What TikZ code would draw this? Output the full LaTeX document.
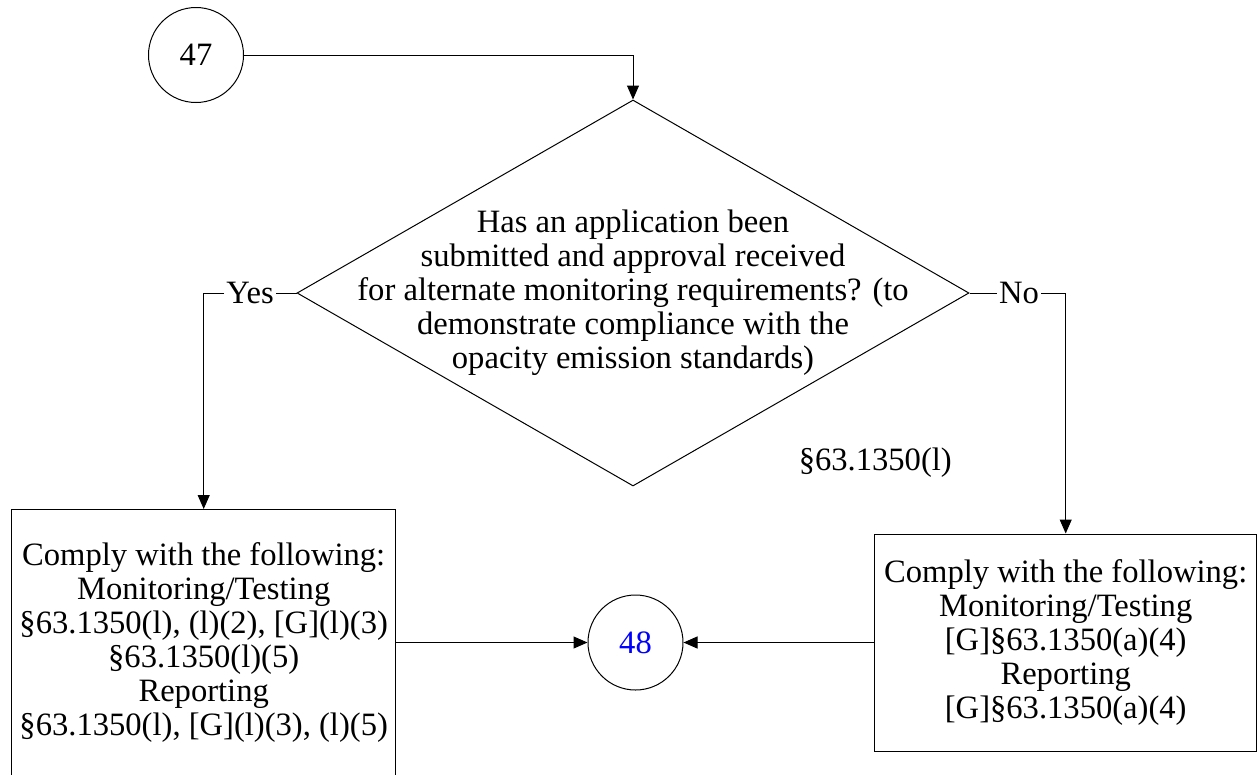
\documentclass[tikz,border=0pt]{standalone}
\usepackage{fontspec}
\setmainfont{Liberation Serif}
\usetikzlibrary{arrows.meta,shapes.geometric}
\begin{document}
\begin{tikzpicture}[x=1pt,y=-1pt,
  every node/.style={font=\fontsize{32.6}{34}\selectfont},
  base/.style={line width=1pt},
  conn/.style={base,-{Triangle[length=14pt,width=12pt]}},
  circ/.style={base,draw,circle,minimum size=95pt,inner sep=0pt},
  dia/.style={base,draw,diamond,minimum width=672pt,minimum height=386pt,inner sep=0pt},
  txt/.style={align=center,inner sep=0pt},
  lab/.style={inner sep=2pt},
  box/.style={base,draw,align=center,inner sep=0pt}
]
\useasboundingbox (0,0) rectangle (1257,774);
\node[circ] (c47) at (196,55) {47};
\node[dia] (q) at (633,293) {};
\node[txt] (qt) at (q.center) {Has an application been\\submitted and approval received\\for alternate monitoring requirements? (to\\demonstrate compliance with the\\opacity emission standards)};
\node[lab] (yes) at (250,293) {Yes};
\node[lab] (no) at (1019,293) {No};
\node[box,minimum width=383.5pt,minimum height=266pt] (lbox) at (203.7,642.5) {Comply with the following:\\Monitoring/Testing\\§63.1350(l), (l)(2), {[G]}(l)(3)\\§63.1350(l)(5)\\Reporting\\§63.1350(l), {[G]}(l)(3), (l)(5)};
\node[box,minimum width=381.5pt,minimum height=217pt] (rbox) at (1065.7,642.5) {Comply with the following:\\Monitoring/Testing\\{}[G]§63.1350(a)(4)\\Reporting\\{}[G]§63.1350(a)(4)};
\node[circ,text=blue] (c48) at (635.5,642.5) {48};
\node[anchor=east,inner sep=0pt] (ref) at (952,463) {§63.1350(l)};
\draw[conn] (c47.east) -| (q.north);
\draw[base] (q.west) -- (yes.east);
\draw[conn] (yes.west) -| (lbox.north);
\draw[base] (q.east) -- (no.west);
\draw[conn] (no.east) -| (rbox.north);
\draw[conn] (lbox.east) -- (c48.west);
\draw[conn] (rbox.west) -- (c48.east);
\end{tikzpicture}
\end{document}
